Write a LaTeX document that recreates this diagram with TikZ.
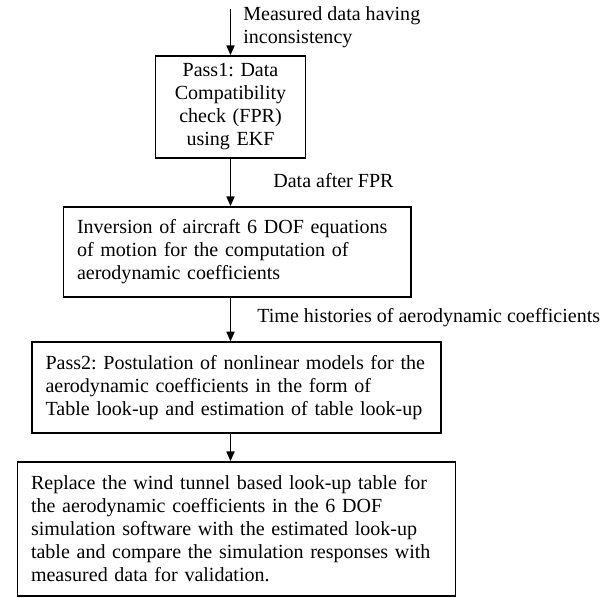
\documentclass[tikz,border=0pt]{standalone}
\usepackage{fontspec}
\setmainfont{Liberation Serif}
\usetikzlibrary{arrows.meta}
\frenchspacing

\begin{document}
\begin{tikzpicture}[font=\fontsize{11.4pt}{13.1pt}\selectfont,
  >={Triangle[length=5.5pt,width=4.6pt]},
  stage/.style={draw,line width=1pt,inner xsep=0.27cm,inner ysep=0pt,align=left},
  flow/.style={->,line width=0.8pt}]
\useasboundingbox (0,0) rectangle (12.22,11.94);
\node[stage,align=center,text width=2.46cm,minimum height=2.04cm] (pass1) at (4.61,9.80) {Pass1: Data\\Compatibility\\check (FPR)\\using EKF};
\node[stage,text width=6.41cm,minimum height=1.80cm] (inversion) at (4.745,6.90) {Inversion of aircraft 6 DOF equations\\of motion for the computation of\\aerodynamic coefficients};
\node[stage,text width=7.64cm,minimum height=1.81cm] (pass2) at (4.73,4.19) {Pass2: Postulation of nonlinear models for the\\aerodynamic coefficients in the form of\\Table look-up and estimation of table look-up};
\node[stage,text width=8.22cm,minimum height=2.68cm] (replace) at (4.73,1.36) {Replace the wind tunnel based look-up table for\\the aerodynamic coefficients in the 6 DOF\\simulation software with the estimated look-up\\table and compare the simulation responses with\\measured data for validation.};
\coordinate (raw) at (4.61,11.76);
\node[anchor=base west,align=left,inner sep=0pt] (measured) at (4.86,11.06) {Measured data having\\inconsistency};
\node[anchor=base west,inner sep=0pt] (fpr) at (5.46,8.20) {Data after FPR};
\node[anchor=base west,inner sep=0pt] (histories) at (5.14,5.50) {Time histories of aerodynamic coefficients};
\draw[flow] (raw) -- (pass1.north);
\draw[flow] (pass1.south) -- (pass1.south |- inversion.north);
\draw[flow] (pass1.south |- inversion.south) -- (pass1.south |- pass2.north);
\draw[flow] (pass1.south |- pass2.south) -- (pass1.south |- replace.north);
\end{tikzpicture}
\end{document}
